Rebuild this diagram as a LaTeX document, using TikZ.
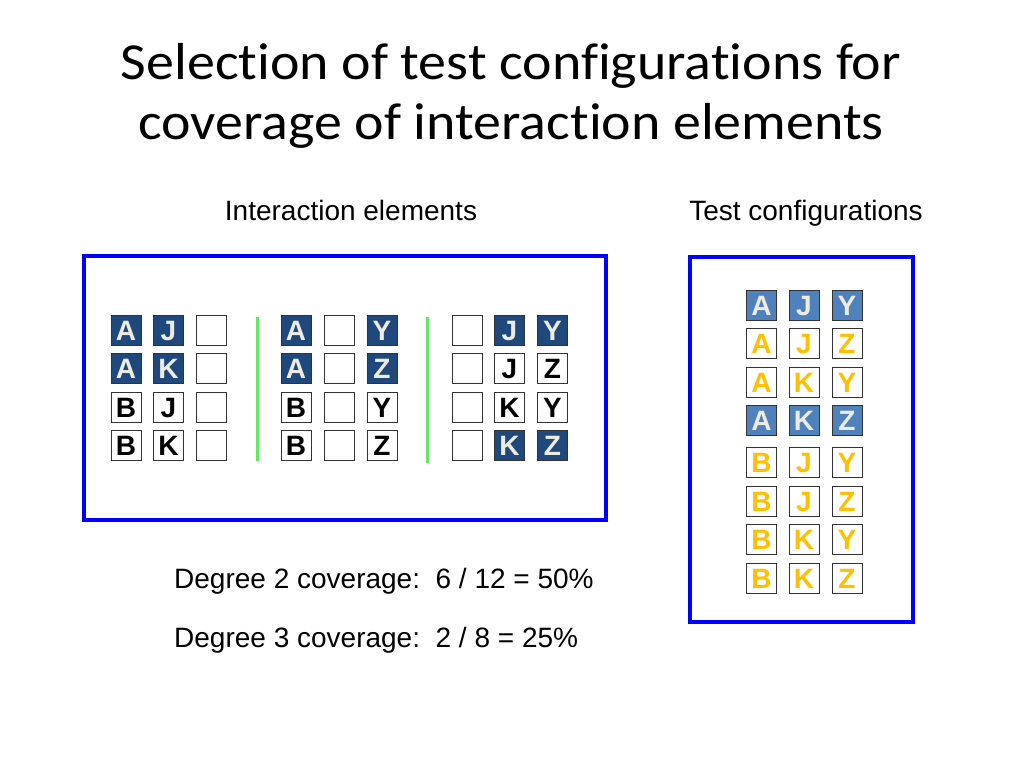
\documentclass[tikz,border=0pt]{standalone}
\usepackage{fontspec}
\setmainfont{Liberation Sans}
\newfontfamily\titlefont[FakeStretch=1.075, Ligatures=NoCommon]{Carlito}
\definecolor{darkcell}{HTML}{1F497D}
\definecolor{lightcell}{HTML}{4F81BD}
\definecolor{celltext}{HTML}{EEECE1}
\definecolor{ytext}{HTML}{FFC000}
\definecolor{frameblue}{HTML}{0000FF}
\definecolor{sepgreen}{RGB}{100,232,100}
\tikzset{
  cellbase/.style={draw=black!80, line width=1pt, minimum size=30pt, inner sep=0pt,
    text height=20pt, text depth=0pt,
    font=\fontsize{28}{28}\selectfont\bfseries},
  wcell/.style={cellbase, fill=white, text=black},
  dcell/.style={cellbase, fill=darkcell, text=celltext},
  lcell/.style={cellbase, fill=lightcell, text=celltext},
  ycell/.style={cellbase, fill=white, text=ytext},
  frame/.style={draw=frameblue, line width=4.5pt},
  sep/.style={draw=sepgreen, line width=3pt},
  label/.style={anchor=base, inner sep=0pt, font=\fontsize{28}{28}\selectfont},
  titletext/.style={anchor=base, inner sep=0pt, font=\titlefont\fontsize{52}{52}\selectfont}
}
\begin{document}
\begin{tikzpicture}[x=1pt,y=-1pt]
\useasboundingbox (0,0) rectangle (1024,768);
% title
\node[titletext] (t1) at (511,79) {Selection of test configurations for};
\node[titletext] (t2) at (511,139) {coverage of interaction elements};
\node[label] (h1) at (351,220) {Interaction elements};
\node[label] (h2) at (806,220) {Test configurations};
% frames
\draw[frame] (84,256) rectangle (606,520);
\draw[frame] (690,257) rectangle (913,622);
% separators
\coordinate (s1a) at (257,317); \coordinate (s1b) at (257,461);
\coordinate (s2a) at (427,317); \coordinate (s2b) at (427,463);
\draw[sep] (s1a) -- (s1b);
\draw[sep] (s2a) -- (s2b);
% left cells
\foreach \y/\r/\a/\as/\b/\bs/\c/\cs/\d/\ds/\e/\es/\f/\fs/\g/\gs/\h/\hs/\i/\is in {
  330.5/1/A/dcell/J/dcell//wcell/A/dcell//wcell/Y/dcell//wcell/J/dcell/Y/dcell,
  368.9/2/A/dcell/K/dcell//wcell/A/dcell//wcell/Z/dcell//wcell/J/wcell/Z/wcell,
  407.3/3/B/wcell/J/wcell//wcell/B/wcell//wcell/Y/wcell//wcell/K/wcell/Y/wcell,
  445.7/4/B/wcell/K/wcell//wcell/B/wcell//wcell/Z/wcell//wcell/K/dcell/Z/dcell}{
  \node[\as] (g1r\r c1) at (126,\y) {\a};
  \node[\bs] (g1r\r c2) at (168.5,\y) {\b};
  \node[\cs] (g1r\r c3) at (211,\y) {\c};
  \node[\ds] (g2r\r c1) at (296,\y) {\d};
  \node[\es] (g2r\r c2) at (339,\y) {\e};
  \node[\fs] (g2r\r c3) at (382,\y) {\f};
  \node[\gs] (g3r\r c1) at (467,\y) {\g};
  \node[\hs] (g3r\r c2) at (509.5,\y) {\h};
  \node[\is] (g3r\r c3) at (552.5,\y) {\i};
}
% right cells
\foreach \y/\r/\a/\b/\c/\s in {
  305/1/A/J/Y/lcell, 343/2/A/J/Z/ycell, 382/3/A/K/Y/ycell, 420.5/4/A/K/Z/lcell,
  462/5/B/J/Y/ycell, 501/6/B/J/Z/ycell, 539/7/B/K/Y/ycell, 578/8/B/K/Z/ycell}{
  \node[\s] (tr\r c1) at (761.5,\y) {\a};
  \node[\s] (tr\r c2) at (804,\y) {\b};
  \node[\s] (tr\r c3) at (847,\y) {\c};
}
% coverage text
\node[label, anchor=base west] (cov2) at (174,588) {Degree 2 coverage:\ \ 6 / 12 = 50\%};
\node[label, anchor=base west] (cov3) at (174,647) {Degree 3 coverage:\ \ 2 / 8 = 25\%};
\end{tikzpicture}
\end{document}
